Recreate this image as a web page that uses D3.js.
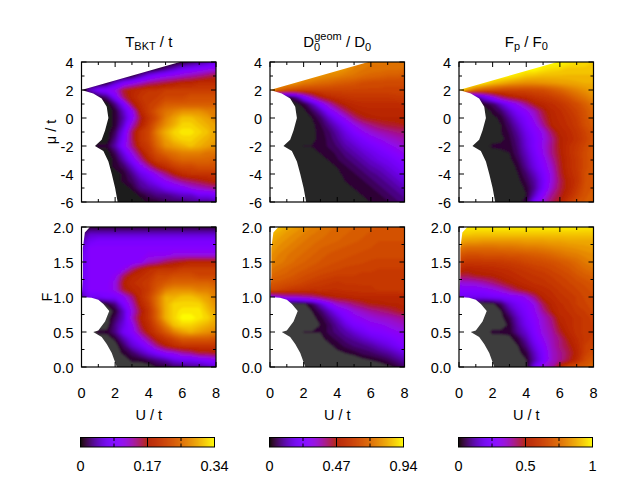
<!DOCTYPE html>
<html>
<head>
<meta charset="utf-8">
<script src="https://d3js.org/d3.v7.min.js"></script>
<style>
  body { margin: 0; background: #fff; }
  text { font-family: "Liberation Sans", sans-serif; font-size: 14.5px; fill: #000; }
</style>
</head>
<body>
<div id="chart"></div>
<script>
// grid axes, one column per U, one row per mu or F
var uValues = d3.range(17).map(function (i) { return i * 0.5; });
var muTicks = [-6, -4, -2, 0, 2, 4];
var muMinor = [-5, -3, -1, 1, 3];
var fTicks = [0, 0.5, 1, 1.5, 2];
var fMinor = [0.25, 0.75, 1.25, 1.75];
var uTicks = [0, 2, 4, 6, 8];
var uMinor = [1, 3, 5, 7];

// values x100, rows from mu = 4 down to mu = -6 in steps of 0.5
var tbktMu = [
  [0,0,0,0,0,0,0,0,0,0,0,0,1,2,3,4,6],
  [0,0,0,0,0,0,0,0,0,1,3,5,7,8,9,10,11],
  [0,0,0,0,0,0,1,4,7,9,10,11,12,13,14,15,16],
  [0,0,0,1,5,8,10,12,14,15,16,17,18,18,19,19,19],
  [0,5,8,9,11,16,18,19,20,20,21,21,21,21,21,21,21],
  [0,0,1,3,8,15,18,20,21,21,22,22,22,23,23,23,23],
  [0,0,0,0,3,8,16,19,21,22,24,24,24,24,24,24,24],
  [0,0,0,0,1,5,10,18,21,24,26,27,28,28,28,27,27],
  [0,0,0,0,1,4,9,16,20,23,27,29,31,31,30,29,27],
  [0,0,0,0,1,5,12,17,21,25,28,30,32,32,31,30,29],
  [0,0,0,0,2,7,15,20,22,27,30,32,33,33,32,31,29],
  [0,0,0,0,3,8,15,20,22,26,29,31,32,32,31,30,29],
  [0,0,1,1,4,9,14,19,21,25,28,29,30,31,30,29,28],
  [0,0,0,0,2,6,11,16,20,23,25,26,27,27,27,26,26],
  [0,0,0,0,1,4,8,13,18,21,22,24,25,25,25,25,24],
  [0,0,0,0,1,2,5,9,13,17,19,21,22,22,23,23,23],
  [0,0,0,0,0,1,3,6,8,11,14,17,19,20,20,20,20],
  [0,0,0,0,0,1,2,4,6,8,10,12,14,15,16,17,18],
  [0,0,0,0,0,0,1,3,4,5,7,8,9,11,12,13,14],
  [0,0,0,0,0,0,0,1,2,3,3,4,5,5,7,7,8],
  [0,0,0,0,0,0,0,0,1,1,2,2,2,3,3,3,4]
];
var dgeomMu = [
  [80,80,80,80,80,80,80,80,80,78,76,75,73,73,73,73,73],
  [80,80,80,80,80,80,80,80,80,78,75,73,72,72,71,71,70],
  [80,80,80,80,80,80,78,76,75,73,72,70,69,68,67,67,66],
  [80,80,80,78,74,72,70,69,67,66,65,63,62,62,61,61,61],
  [80,70,64,62,60,60,60,60,60,60,60,60,60,60,60,60,60],
  [0,0,1,8,23,36,47,52,54,55,56,56,56,56,56,57,57],
  [0,0,0,1,3,12,24,35,44,49,51,52,52,52,52,52,53],
  [0,0,0,0,1,5,12,23,32,41,47,49,50,50,50,50,50],
  [0,0,0,0,0,2,6,14,22,30,39,45,47,48,48,48,48],
  [0,0,0,0,0,1,4,9,15,22,29,35,39,42,44,45,46],
  [0,0,0,0,0,1,3,6,11,17,23,28,32,35,37,39,40],
  [0,0,0,0,0,1,3,5,9,14,18,22,26,29,32,34,36],
  [0,0,0,0,2,2,2,5,7,11,14,18,21,24,27,30,33],
  [0,0,0,0,0,1,2,3,5,8,11,14,17,20,23,26,29],
  [0,0,0,0,0,0,1,2,4,6,8,11,14,17,19,22,25],
  [0,0,0,0,0,0,0,1,2,4,6,8,11,13,16,19,22],
  [0,0,0,0,0,0,0,0,1,3,4,6,8,10,13,16,19],
  [0,0,0,0,0,0,0,0,1,2,3,4,6,8,10,13,16],
  [0,0,0,0,0,0,0,0,0,1,2,3,4,6,8,10,13],
  [0,0,0,0,0,0,0,0,0,0,1,2,3,4,6,8,10],
  [0,0,0,0,0,0,0,0,0,0,0,1,2,3,4,6,8]
];
var fpMu = [
  [100,100,100,100,100,100,100,100,100,100,100,100,100,98,96,95,93],
  [100,100,100,100,100,100,100,100,100,100,97,95,94,92,92,92,92],
  [100,100,100,100,100,100,98,95,92,91,90,90,90,90,90,90,90],
  [100,100,100,96,91,88,85,83,82,82,83,84,85,86,87,88,88],
  [100,85,75,70,68,66,65,65,65,66,67,70,73,77,80,83,85],
  [0,0,8,20,32,43,50,53,55,58,60,62,65,69,74,78,82],
  [0,0,0,3,6,15,24,32,41,50,53,56,59,63,67,72,77],
  [0,0,0,0,3,7,15,23,29,37,47,53,56,60,64,69,74],
  [0,0,0,0,1,3,10,18,24,33,44,52,55,58,62,68,73],
  [0,0,0,0,0,2,7,14,22,29,40,51,54,57,61,67,71],
  [0,0,0,0,0,2,5,11,19,26,32,44,52,55,59,64,69],
  [0,0,0,0,0,1,4,9,17,24,31,40,50,54,58,63,68],
  [0,0,0,0,3,3,3,8,16,24,32,41,50,56,60,65,70],
  [0,0,0,0,0,1,2,7,14,22,31,41,49,56,61,66,71],
  [0,0,0,0,0,0,1,5,12,20,28,38,48,55,60,66,70],
  [0,0,0,0,0,0,0,3,10,18,26,35,47,55,60,66,70],
  [0,0,0,0,0,0,0,2,7,14,23,33,46,54,59,67,70],
  [0,0,0,0,0,0,0,1,5,11,21,33,44,52,58,67,70],
  [0,0,0,0,0,0,0,0,3,10,22,35,45,52,60,68,70],
  [0,0,0,0,0,0,0,0,2,14,28,40,47,55,63,69,71],
  [0,0,0,0,0,0,0,0,5,23,34,44,50,60,67,70,72]
];

// values x100, rows from F = 2 down to F = 0 in steps of 0.1
var tbktF = [
  [1,1,1,1,1,1,1,1,1,1,1,1,1,1,1,1,1],
  [2,5,5,5,5,5,5,5,5,5,5,5,5,5,5,5,5],
  [4,7,8,8,8,8,8,8,8,8,8,8,8,8,8,8,8],
  [5,9,9,9,9,9,9,9,9,9,9,9,9,9,9,9,9],
  [6,9,9,9,9,9,9,9,10,10,10,11,11,11,11,11,11],
  [6,9,9,9,9,9,9,10,12,13,15,16,17,18,18,18,18],
  [6,9,9,9,9,10,14,17,19,20,20,20,21,21,21,21,21],
  [6,9,9,9,10,15,18,19,20,22,22,23,23,23,22,22,22],
  [6,9,9,9,11,17,19,20,21,23,24,25,25,25,25,25,24],
  [6,9,9,9,11,16,18,19,21,24,27,28,28,28,27,27,26],
  [4,7,7,8,8,10,14,19,22,26,30,30,31,31,30,29,27],
  [0,0,0,1,3,8,12,18,21,26,30,32,32,32,32,30,28],
  [0,0,0,0,1,5,11,16,20,25,30,32,33,33,33,31,29],
  [0,0,0,0,2,5,12,17,20,25,30,32,34,34,33,32,30],
  [0,0,0,0,3,6,10,16,19,23,27,31,32,32,31,30,29],
  [0,0,1,1,3,7,9,14,18,21,24,27,29,30,29,28,27],
  [0,0,0,0,1,4,7,10,14,18,20,22,24,24,24,24,23],
  [0,0,0,0,0,2,5,7,10,14,17,19,20,20,20,20,20],
  [0,0,0,0,0,1,2,4,6,8,10,11,13,14,16,16,17],
  [0,0,0,0,0,0,1,1,2,3,4,6,7,7,8,9,10],
  [0,0,0,0,0,0,0,0,0,1,1,2,2,3,3,4,5]
];
var dgeomF = [
  [86,86,82,80,77,75,73,71,70,70,68,67,66,65,65,64,64],
  [84,82,79,77,75,73,72,70,69,68,67,66,65,64,64,64,64],
  [82,79,77,75,73,71,70,69,68,67,66,65,64,63,63,63,63],
  [80,77,75,73,71,70,68,67,66,65,64,64,63,62,62,62,62],
  [78,75,73,71,70,68,67,65,64,64,63,62,62,61,61,61,61],
  [76,74,72,70,68,67,65,64,63,62,61,61,60,60,60,60,60],
  [73,71,69,67,66,64,63,62,61,60,60,59,59,58,58,58,58],
  [70,68,67,65,63,62,60,59,58,58,58,57,57,57,57,57,57],
  [66,65,63,62,60,58,57,56,55,56,56,56,56,56,56,56,56],
  [62,60,58,56,55,54,54,53,53,54,54,55,55,56,56,56,57],
  [28,30,33,34,36,38,42,46,48,49,50,50,50,50,50,50,50],
  [0,0,0,0,1,5,14,24,33,36,40,43,46,47,48,48,49],
  [0,0,0,0,0,2,6,13,21,26,31,34,37,39,41,44,47],
  [0,0,0,0,0,1,3,8,14,22,26,29,31,33,34,36,38],
  [0,0,0,0,0,0,2,5,10,16,22,24,27,28,30,32,34],
  [0,0,0,0,2,2,2,5,8,11,15,19,23,24,26,28,30],
  [0,0,0,0,1,1,1,3,5,8,10,13,16,19,21,24,26],
  [0,0,0,0,0,0,0,1,3,5,7,8,10,13,16,20,24],
  [0,0,0,0,0,0,0,0,1,2,3,5,6,8,10,13,17],
  [0,0,0,0,0,0,0,0,0,0,0,1,2,3,5,8,11],
  [0,0,0,0,0,0,0,0,0,0,0,0,0,0,1,3,6]
];
var fpF = [
  [98,98,98,98,98,98,98,98,98,98,98,98,98,98,98,97,97],
  [93,93,92,92,92,92,92,92,92,92,92,92,92,92,92,92,92],
  [87,85,85,84,84,84,84,84,85,85,85,86,86,87,87,87,87],
  [78,75,75,75,75,76,76,77,78,78,79,80,81,82,83,84,85],
  [70,67,67,68,68,68,69,69,70,71,72,74,76,78,79,81,82],
  [62,60,60,60,60,61,62,63,65,66,67,68,70,72,75,78,80],
  [54,52,53,54,55,56,57,59,60,62,63,65,67,69,72,75,77],
  [46,45,48,49,50,52,54,56,58,59,60,62,64,66,69,71,73],
  [33,34,35,38,42,46,50,53,55,57,58,60,62,64,66,68,70],
  [26,26,26,27,30,34,40,46,50,53,55,57,60,62,64,66,68],
  [20,20,20,20,22,23,25,27,32,42,52,55,58,60,62,65,67],
  [0,0,0,0,1,6,16,22,26,32,45,52,56,58,62,64,66],
  [0,0,0,0,0,2,10,18,24,30,40,50,55,57,60,62,65],
  [0,0,0,0,0,1,5,14,22,28,35,42,53,55,58,60,63],
  [0,0,0,0,0,0,3,12,20,26,34,40,50,55,58,60,62],
  [0,0,0,0,3,3,3,10,16,25,33,38,47,53,58,60,62],
  [0,0,0,0,0,0,1,4,12,22,30,37,42,50,56,60,63],
  [0,0,0,0,0,0,0,2,8,18,27,36,42,47,54,62,65],
  [0,0,0,0,0,0,0,1,4,14,24,35,40,45,52,63,67],
  [0,0,0,0,0,0,0,0,2,12,23,35,40,46,55,66,70],
  [0,0,0,0,0,0,0,0,1,20,33,38,55,65,68,70,75]
];

// outline of the region that has data, [U, mu] and [U, F]
var edgeMu = [[0,2],[5.85,4],[8,4],[8,-6],[2.15,-6],[2,-5],[1.8,-4],[1.6,-3.1],[1.3,-2.35],[0.8,-2],
  [1.2,-1.55],[1.4,-0.9],[1.6,0],[1.5,0.8],[1.2,1.4],[0.7,1.75]];
var edgeF = [[0.02,1],[0.08,1.3],[0.08,1.7],[0.2,1.92],[0.5,2],[8,2],[8,0],[2.1,0],[1.8,0.2],[1.5,0.33],
  [1.2,0.43],[0.7,0.5],[1,0.52],[1.4,0.65],[1.65,0.8],[1.3,0.9],[1,0.96],[0.6,0.99]];

var colorMax = [34, 94, 100];
var barLabels = [["0", "0.17", "0.34"], ["0", "0.47", "0.94"], ["0", "0.5", "1"]];

var width = 640, height = 480;
var colLeft = [81.5, 270, 459];
var colWidth = 134.5;
var rowTop = [62, 227];
var rowHeight = 140;

var svg = d3.select("#chart").append("svg")
  .attr("width", width)
  .attr("height", height)
  .style("display", "block");

// soft edges between the bands
svg.append("filter").attr("id", "soft")
  .attr("x", "-5%").attr("y", "-5%").attr("width", "110%").attr("height", "110%")
  .append("feGaussianBlur").attr("stdDeviation", 1);

// gnuplot palette rgbformulae 7,5,15
function palette(x) {
  var r = Math.sqrt(x), g = x * x * x, b = Math.max(0, Math.sin(2 * Math.PI * x));
  return d3.rgb(r * 255, g * 255, b * 255).formatHex();
}

var levels = d3.range(0.02, 1, 0.026);

function drawPanel(col, row, grid, yDomain, edge, base, yTicks, yMinor) {
  var x = d3.scaleLinear().domain([0, 8]).range([colLeft[col], colLeft[col] + colWidth]);
  var y = d3.scaleLinear().domain(yDomain).range([rowTop[row] + rowHeight, rowTop[row]]);
  var rowToY = d3.scaleLinear().domain([0, 20]).range([yDomain[1], yDomain[0]]);
  var id = "clip" + col + row;

  svg.append("clipPath").attr("id", id).append("path")
    .attr("d", d3.line().x(function (d) { return x(d[0]); }).y(function (d) { return y(d[1]); })(edge) + "Z");

  var g = svg.append("g").attr("clip-path", "url(#" + id + ")")
    .append("g").attr("filter", "url(#soft)");
  g.append("rect")
    .attr("x", x(0) - 10).attr("y", y(yDomain[1]) - 10)
    .attr("width", colWidth + 20).attr("height", rowHeight + 20)
    .attr("fill", base);

  var project = d3.geoTransform({
    point: function (px, py) {
      this.stream.point(x((px - 0.5) * 0.5), y(rowToY(py - 0.5)));
    }
  });
  var path = d3.geoPath(project);
  var bands = d3.contours()
    .size([uValues.length, grid.length])
    .thresholds(levels.map(function (l) { return l * colorMax[col]; }))(d3.merge(grid));

  g.selectAll("path").data(bands).enter().append("path")
    .attr("d", path)
    .attr("fill", function (d) { return palette(Math.min(1, d.value / colorMax[col] + 0.013)); });

  // frame and ticks, inward on all sides
  var axes = svg.append("g").attr("stroke", "#000").attr("fill", "none");
  function ticks(vals, len) {
    vals.forEach(function (u) {
      axes.append("line").attr("x1", x(u)).attr("x2", x(u)).attr("y1", y(yDomain[0])).attr("y2", y(yDomain[0]) - len);
      axes.append("line").attr("x1", x(u)).attr("x2", x(u)).attr("y1", y(yDomain[1])).attr("y2", y(yDomain[1]) + len);
    });
  }
  function yticks(vals, len) {
    vals.forEach(function (v) {
      axes.append("line").attr("y1", y(v)).attr("y2", y(v)).attr("x1", x(0)).attr("x2", x(0) + len);
      axes.append("line").attr("y1", y(v)).attr("y2", y(v)).attr("x1", x(8)).attr("x2", x(8) - len);
    });
  }
  ticks(uTicks, 5); ticks(uMinor, 3);
  yticks(yTicks, 5); yticks(yMinor, 3);
  axes.append("rect")
    .attr("x", x(0)).attr("y", y(yDomain[1]))
    .attr("width", colWidth).attr("height", rowHeight)
    .attr("stroke-width", 1.2);

  yTicks.forEach(function (v) {
    svg.append("text").attr("x", x(0) - 8).attr("y", y(v) + 6).attr("text-anchor", "end")
      .text(yDomain[1] === 2 ? v.toFixed(1) : v);
  });
  if (row === 1) {
    uTicks.forEach(function (u) {
      svg.append("text").attr("x", x(u)).attr("y", 398).attr("text-anchor", "middle").text(u);
    });
    svg.append("text").attr("x", x(4)).attr("y", 420).attr("text-anchor", "middle").text("U / t");
  }
}

var topGrids = [tbktMu, dgeomMu, fpMu];
var botGrids = [tbktF, dgeomF, fpF];
topGrids.forEach(function (grid, i) {
  drawPanel(i, 0, grid, [-6, 4], edgeMu, i === 0 ? "#1c1c1c" : "#252525", muTicks, muMinor);
  drawPanel(i, 1, botGrids[i], [0, 2], edgeF, "#3d3d3d", fTicks, fMinor);
});

// titles
function sub(t, s, dy, dx) {
  var e = t.append("tspan").attr("dy", dy).style("font-size", "11px").text(s);
  if (dx) e.attr("dx", dx);
}
function title(col) {
  return svg.append("text").attr("x", colLeft[col] + colWidth / 2).attr("y", 47)
    .attr("text-anchor", "middle").style("font-size", "15px");
}
var t0 = title(0);
t0.append("tspan").text("T");
sub(t0, "BKT", 3);
t0.append("tspan").attr("dy", -3).text(" / t");
var t1 = title(1);
t1.append("tspan").text("D");
sub(t1, "0", 4);
sub(t1, "geom", -11, -6);
t1.append("tspan").attr("dy", 7).text(" / D");
sub(t1, "0", 4);
var t2 = title(2);
t2.append("tspan").text("F");
sub(t2, "p", 3);
t2.append("tspan").attr("dy", -3).text(" / F");
sub(t2, "0", 3);

svg.append("text").attr("transform", "translate(56,132) rotate(-90)").attr("text-anchor", "middle").text("μ / t");
svg.append("text").attr("transform", "translate(52,297) rotate(-90)").attr("text-anchor", "middle").text("F");

// colour bars
var barX = [80.5, 269.5, 458.5];
var barW = 134, barTop = 437.5, barH = 9.5;
barX.forEach(function (bx, i) {
  var scale = d3.scaleLinear().domain([0, 1]).range([bx, bx + barW]);
  var g = svg.append("g");
  g.selectAll("rect").data(d3.range(0, 1, 1 / 134)).enter().append("rect")
    .attr("x", function (d) { return scale(d); })
    .attr("y", barTop)
    .attr("width", barW / 134 + 0.4)
    .attr("height", barH)
    .attr("fill", function (d) { return palette(d); });
  [0.25, 0.75].forEach(function (q) {
    g.append("line").attr("x1", scale(q)).attr("x2", scale(q)).attr("y1", barTop).attr("y2", barTop + 3.5).attr("stroke", "#000");
    g.append("line").attr("x1", scale(q)).attr("x2", scale(q)).attr("y1", barTop + barH).attr("y2", barTop + barH - 3.5).attr("stroke", "#000");
  });
  g.append("line").attr("x1", scale(0.5)).attr("x2", scale(0.5)).attr("y1", barTop).attr("y2", barTop + barH).attr("stroke", "#000");
  g.append("rect").attr("x", bx).attr("y", barTop).attr("width", barW).attr("height", barH)
    .attr("fill", "none").attr("stroke", "#000");
  barLabels[i].forEach(function (lab, k) {
    svg.append("text").attr("x", scale(k / 2)).attr("y", 471).attr("text-anchor", "middle").text(lab);
  });
});
</script>
</body>
</html>
